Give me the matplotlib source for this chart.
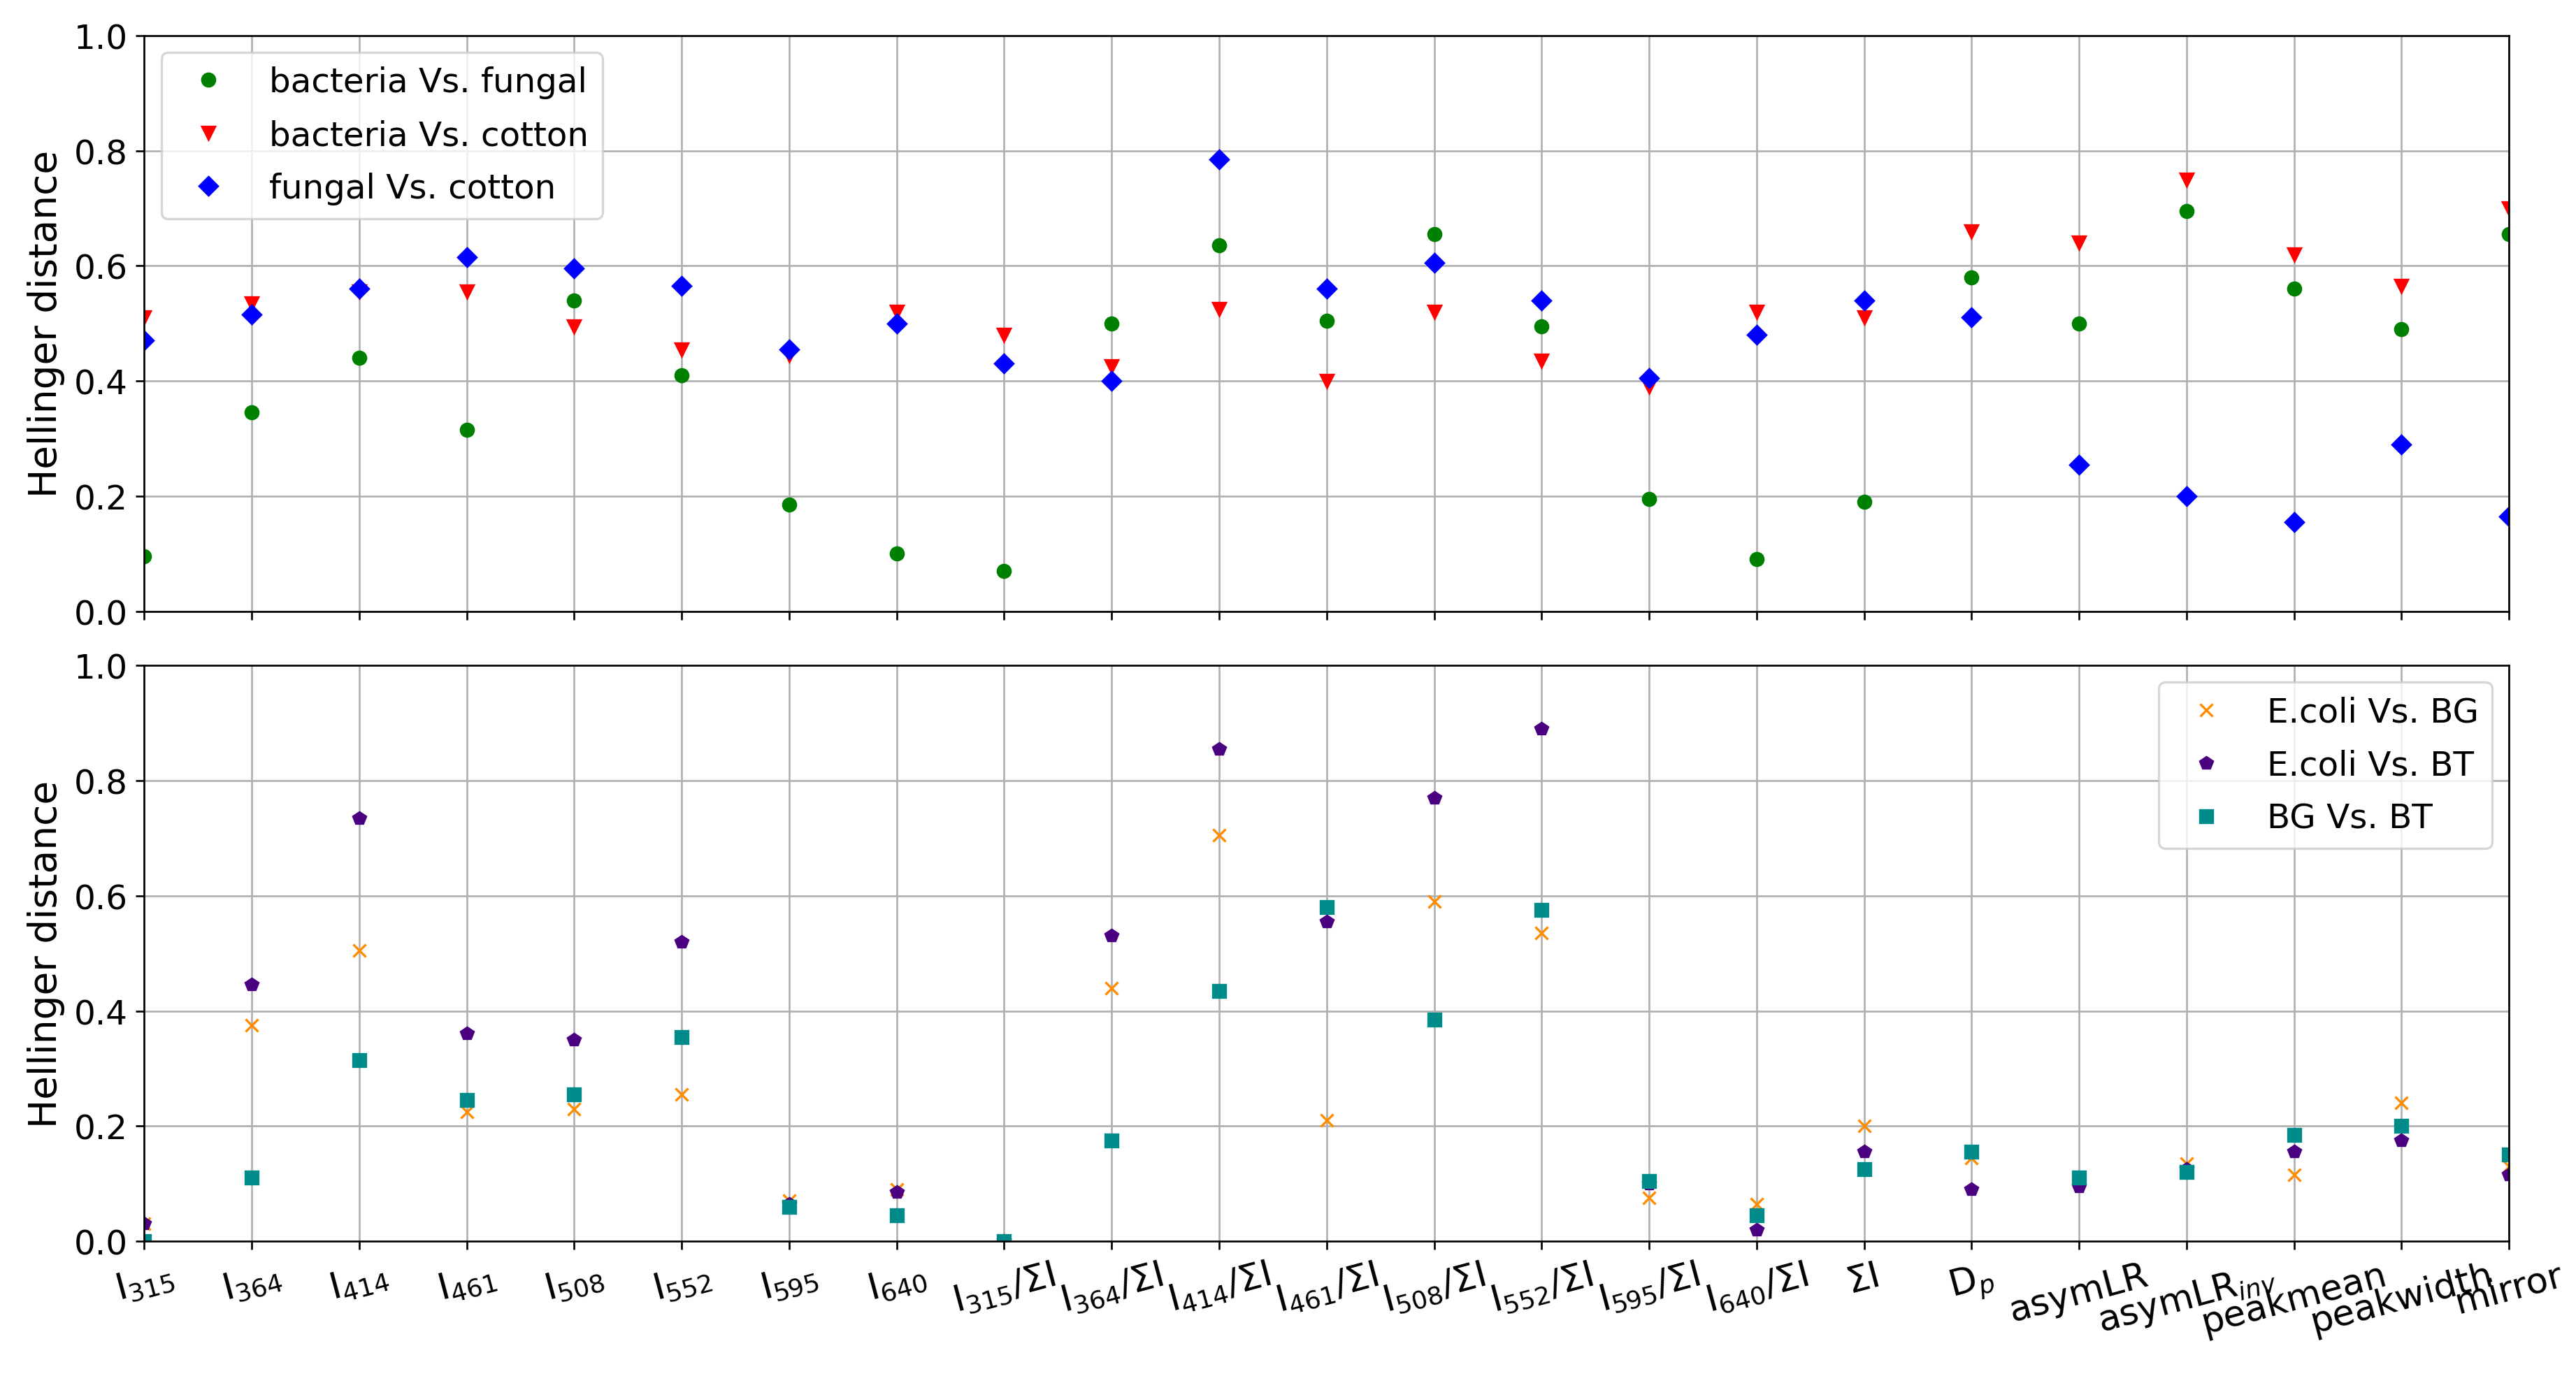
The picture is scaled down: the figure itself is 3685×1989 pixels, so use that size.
import matplotlib
matplotlib.use("Agg")
import matplotlib.pyplot as plt
import numpy as np

labels = [r"I$_{315}$", r"I$_{364}$", r"I$_{414}$", r"I$_{461}$", r"I$_{508}$", r"I$_{552}$",
          r"I$_{595}$", r"I$_{640}$", r"I$_{315}$/ΣI", r"I$_{364}$/ΣI", r"I$_{414}$/ΣI",
          r"I$_{461}$/ΣI", r"I$_{508}$/ΣI", r"I$_{552}$/ΣI", r"I$_{595}$/ΣI", r"I$_{640}$/ΣI",
          "ΣI", r"D$_p$", "asymLR", r"asymLR$_{inv}$", "peakmean", "peakwidth", "mirror"]

bact_fungal = [0.095, 0.345, 0.44, 0.315, 0.54, 0.41, 0.185, 0.10, 0.07, 0.50, 0.635, 0.505,
               0.655, 0.495, 0.195, 0.09, 0.19, 0.58, 0.50, 0.695, 0.56, 0.49, 0.655]
bact_cotton = [0.51, 0.535, 0.555, 0.555, 0.495, 0.455, 0.445, 0.52, 0.48, 0.425, 0.525, 0.40,
               0.52, 0.435, 0.39, 0.52, 0.51, 0.66, 0.64, 0.75, 0.62, 0.565, 0.70]
fungal_cotton = [0.47, 0.515, 0.56, 0.615, 0.595, 0.565, 0.455, 0.50, 0.43, 0.40, 0.785, 0.56,
                 0.605, 0.54, 0.405, 0.48, 0.54, 0.51, 0.255, 0.20, 0.155, 0.29, 0.165]

ecoli_bg = [0.03, 0.375, 0.505, 0.225, 0.23, 0.255, 0.07, 0.09, 0.0, 0.44, 0.705, 0.21, 0.59,
            0.535, 0.075, 0.065, 0.20, 0.145, 0.105, 0.135, 0.115, 0.24, 0.13]
ecoli_bt = [0.03, 0.445, 0.735, 0.36, 0.35, 0.52, 0.065, 0.085, 0.0, 0.53, 0.855, 0.555, 0.77,
            0.89, 0.10, 0.02, 0.155, 0.09, 0.095, 0.125, 0.155, 0.175, 0.115]
bg_bt = [0.0, 0.11, 0.315, 0.245, 0.255, 0.355, 0.06, 0.045, 0.0, 0.175, 0.435, 0.58, 0.385,
         0.575, 0.105, 0.045, 0.125, 0.155, 0.11, 0.12, 0.185, 0.20, 0.15]

plt.rcParams['font.size'] = 14
fig = plt.figure(figsize=(3685/240, 1990/240), dpi=240)
ax1 = fig.add_axes([0.056, 0.560, 0.918, 0.414])
ax2 = fig.add_axes([0.056, 0.107, 0.918, 0.414])
x = np.arange(len(labels))

ax1.plot(x, bact_fungal, 'o', color='green', ms=5.5, label='bacteria Vs. fungal')
ax1.plot(x, bact_cotton, 'v', color='red', ms=5.5, label='bacteria Vs. cotton')
ax1.plot(x, fungal_cotton, 'D', color='blue', ms=5.5, label='fungal Vs. cotton')
ax1.legend(loc='upper left', fontsize=14.5, labelspacing=0.6)

ax2.plot(x, ecoli_bg, 'x', color='darkorange', ms=5.5, label='E.coli Vs. BG')
ax2.plot(x, ecoli_bt, 'p', color='indigo', ms=5.5, label='E.coli Vs. BT')
ax2.plot(x, bg_bt, 's', color='darkcyan', ms=5.5, label='BG Vs. BT')
ax2.legend(loc='upper right', fontsize=14.5, labelspacing=0.6)

for ax in (ax1, ax2):
    ax.set_xlim(0, len(labels) - 1)
    ax.set_ylim(0, 1.0)
    ax.set_xticks(x)
    ax.set_yticks(np.arange(0, 1.01, 0.2))
    ax.grid(True)
    ax.set_ylabel('Hellinger distance', fontsize=16.5)
    ax.tick_params(labelsize=14.5)
ax1.set_xticklabels([])
ax2.set_xticklabels(labels, rotation=15, fontsize=15.5)

fig.savefig('out.png', dpi=240)
